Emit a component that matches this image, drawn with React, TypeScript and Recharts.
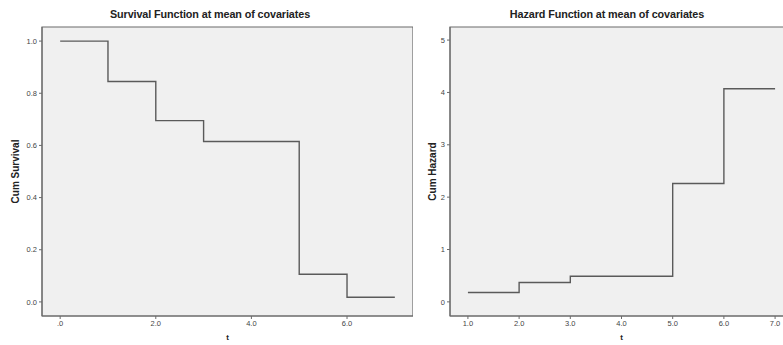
import { LineChart, Line, XAxis, YAxis, ReferenceArea } from 'recharts'

// step times and estimates
const survT = [0, 1, 2, 3, 5, 6, 7]
const survVal = [1.0, 0.845, 0.695, 0.615, 0.106, 0.018, 0.018]
const survXTicks = [0, 2, 4, 6]
const survYTicks = [0, 0.2, 0.4, 0.6, 0.8, 1.0]

const hazT = [1, 2, 3, 5, 6, 7]
const hazVal = [0.18, 0.37, 0.49, 2.26, 4.07, 4.07]
const hazXTicks = [1, 2, 3, 4, 5, 6, 7]
const hazYTicks = [0, 1, 2, 3, 4, 5]

const FONT = '"Liberation Sans", Arial, sans-serif'
const LINE = '#5a5a5a'
const AXIS = '#6a6a6a'
const PLOT_BG = '#f0f0f0'

const fmtX = (v: number) => (v === 0 ? '.0' : v.toFixed(1))

const tickStyle = { fill: '#444', fontSize: 7.5, fontFamily: FONT }

interface PanelProps {
  title: string
  yLabel: string
  t: number[]
  vals: number[]
  xTicks: number[]
  yTicks: number[]
  xDomain: [number, number]
  yDomain: [number, number]
  yFmt: (v: number) => string
  left: number
  width: number
  yAxisWidth: number
  yLabelOffset: number
  titleX: number
}

function StepPanel(p: PanelProps) {
  const data = p.t.map((x, i) => ({ t: x, v: p.vals[i] }))
  return (
    <div style={{ position: 'absolute', left: p.left, top: 0, width: p.width, height: 345 }}>
      <div
        style={{
          position: 'absolute', top: 8, left: p.titleX - 150, width: 300, textAlign: 'center',
          fontFamily: FONT, fontWeight: 'bold', fontSize: 10.8, color: '#222', letterSpacing: -0.1,
        }}
      >
        {p.title}
      </div>
      <LineChart width={p.width} height={345} data={data} margin={{ top: 27, right: 0, bottom: 0, left: 0 }}>
        <ReferenceArea
          x1={p.xDomain[0]} x2={p.xDomain[1]} y1={p.yDomain[0]} y2={p.yDomain[1]}
          fill={PLOT_BG} fillOpacity={1} stroke={AXIS} strokeWidth={1.2} ifOverflow="visible"
        />
        <XAxis
          dataKey="t" type="number" domain={p.xDomain} ticks={p.xTicks} tickFormatter={fmtX}
          allowDataOverflow height={29} stroke={AXIS} tickSize={3} tick={tickStyle}
          label={{ value: 't', position: 'insideBottom', offset: 5, style: { fontFamily: FONT, fontWeight: 'bold', fontSize: 8, fill: '#222' } }}
        />
        <YAxis
          type="number" domain={p.yDomain} ticks={p.yTicks} tickFormatter={p.yFmt}
          allowDataOverflow width={p.yAxisWidth} stroke={AXIS} tickSize={3} tick={tickStyle}
          label={{ value: p.yLabel, angle: -90, position: 'insideLeft', offset: p.yLabelOffset, style: { textAnchor: 'middle', fontFamily: FONT, fontWeight: 'bold', fontSize: 10, fill: '#222' } }}
        />
        <Line
          type="stepAfter" dataKey="v" stroke={LINE} strokeWidth={1.4} dot={false}
          isAnimationActive={false}
        />
      </LineChart>
    </div>
  )
}

export default function App() {
  return (
    <div style={{ position: 'absolute', left: 0, top: 0, width: 783, height: 345, overflow: 'hidden', background: '#fff' }}>
      <StepPanel
        title="Survival Function at mean of covariates" yLabel="Cum Survival"
        t={survT} vals={survVal} xTicks={survXTicks} yTicks={survYTicks}
        xDomain={[-0.38, 7.38]} yDomain={[-0.054, 1.054]} yFmt={(v) => v.toFixed(1)}
        left={0} width={413} yAxisWidth={42} yLabelOffset={15} titleX={210}
      />
      <StepPanel
        title="Hazard Function at mean of covariates" yLabel="Cum Hazard"
        t={hazT} vals={hazVal} xTicks={hazXTicks} yTicks={hazYTicks}
        xDomain={[0.65, 7.35]} yDomain={[-0.27, 5.25]} yFmt={(v) => String(v)}
        left={413} width={380} yAxisWidth={37} yLabelOffset={19} titleX={607 - 413}
      />
    </div>
  )
}
